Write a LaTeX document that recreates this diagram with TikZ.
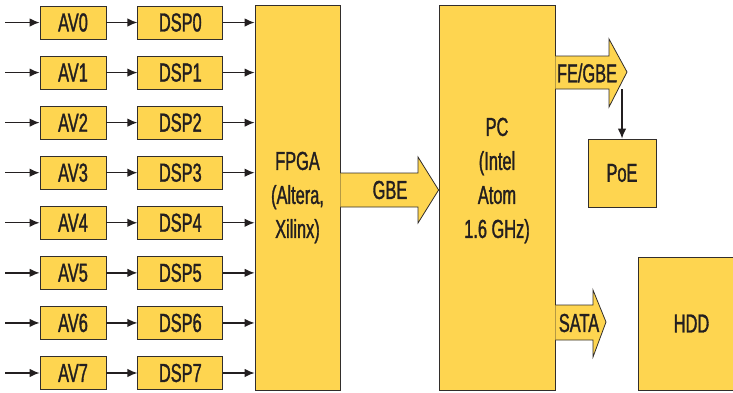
\documentclass[tikz,border=0pt]{standalone}
\usepackage{fontspec}
\setmainfont{Liberation Sans}[FakeStretch=0.63,FakeBold=1.2]
\usetikzlibrary{arrows.meta,positioning}
\definecolor{boxyellow}{RGB}{254,213,80}
\definecolor{edgegray}{RGB}{50,46,44}
\definecolor{inkgray}{RGB}{35,31,32}

\begin{document}
\begin{tikzpicture}[
  x=1pt, y=-1pt,
  blk/.style={draw=edgegray, fill=boxyellow, line width=0.8pt, text=inkgray, inner sep=0pt, align=center, font=\fontsize{26}{34}\selectfont},
  chan/.style={blk, minimum height=33pt},
  tall/.style={blk, minimum width=85pt, minimum height=385pt},
  fat/.style={draw=edgegray, fill=boxyellow, line width=0.8pt, line join=miter},
  wire/.style={draw=inkgray, line width=1.4pt, -{Latex[length=10pt,width=8.5pt]}},
  tag/.style={text=inkgray, inner sep=0pt, align=center, font=\fontsize{26}{34}\selectfont},
]
\useasboundingbox (0,0) rectangle (733,392);

% Eight AV/DSP channels
\foreach \i in {0,...,7} {
  \node[chan, minimum width=66pt] (av\i) at (73, 22.5+50.07*\i) {AV\i};
  \node[chan, minimum width=85pt, right=31pt of av\i] (dsp\i) {DSP\i};
  \coordinate (in\i) at (5, 22.5+50.07*\i);
}

% Main blocks
\node[tall] (fpga) at (297.5,197.5) {FPGA\\(Altera,\\Xilinx)};
\node[tall, minimum width=116pt] (pc) at (497,197.5) {};
\node[tag] at ([yshift=17pt]pc.center) {PC\\(Intel\\Atom\\1.6 GHz)};
\node[blk, minimum width=68pt, minimum height=68pt] (poe) at (622,173) {PoE};
\node[blk, minimum width=107pt, minimum height=133pt] (hdd) at (691.5,323.5) {HDD};

% Wide bus arrows
\draw[fat] (fpga.east |- 0,173) -- (418,173) -- (418,157) -- (pc.west |- 0,190)
  -- (418,223) -- (418,207) -- (fpga.east |- 0,207);
\node[tag] (gbe) at (390,190) {GBE};
\draw[fat] (pc.east |- 0,56) -- (609,56) -- (609,39) -- (627,72)
  -- (609,107) -- (609,89) -- (pc.east |- 0,89);
\node[tag] (fegbe) at (587,73) {FE/GBE};
\draw[fat] (pc.east |- 0,305) -- (593,305) -- (593,290) -- (606,322)
  -- (593,357) -- (593,340) -- (pc.east |- 0,340);
\node[tag] (sata) at (579,323) {SATA};

% Thin connectors
\foreach \i in {0,...,7} {
  \draw[wire] (in\i) -- (av\i);
  \draw[wire] (av\i) -- (dsp\i);
  \draw[wire] (dsp\i) -- (fpga.west |- dsp\i);
}
\coordinate (tap) at (poe.north |- 0,89);
\draw[wire] (tap) -- (poe);

\end{tikzpicture}
\end{document}
